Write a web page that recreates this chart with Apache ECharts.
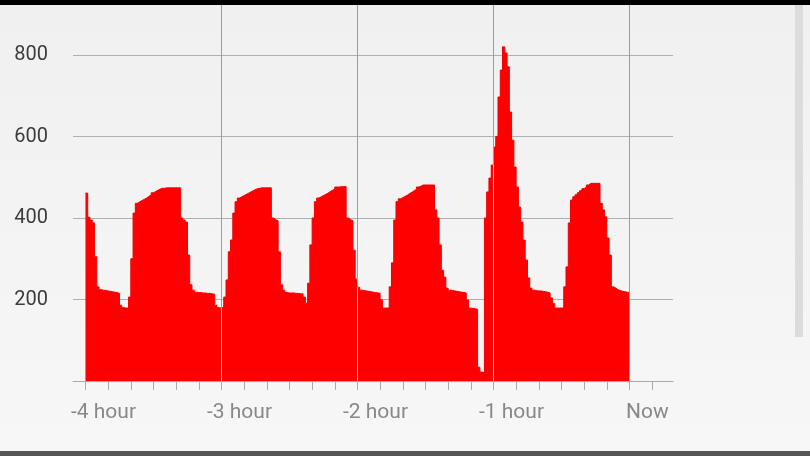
<!DOCTYPE html>
<html><head><meta charset="utf-8">
<script src="https://cdn.jsdelivr.net/npm/echarts@6/dist/echarts.min.js"></script>
<style>html,body{margin:0;padding:0;background:#f3f3f3}#c{width:810px;height:456px}</style>
</head><body><div id="c"></div>
<script>
// time in minutes relative to now, one value per minute
const startMinute = -240;
const stepMinutes = 1;
const hour1 = [461,402,395,388,305,231,224,223,222,221,220,219,218,217,215,186,180,179,179,206,300,412,436,440,443,446,449,453,457,462,
               465,468,471,473,473,474,474,474,474,474,474,474,400,395,390,309,236,223,218,217,217,216,216,215,215,214,213,186,180,179];
const hour2 = [182,206,248,317,346,412,440,449,452,455,458,461,464,467,470,472,473,474,474,474,474,474,400,396,393,317,236,223,217,216,
               216,216,215,215,214,214,206,191,240,334,400,440,449,452,455,458,461,465,468,471,476,476,477,477,477,400,396,393,321,250];
const hour3 = [230,223,222,221,220,219,218,217,216,215,199,179,179,179,231,290,395,440,447,450,453,456,460,463,467,470,476,478,481,481,
               481,481,481,481,420,400,334,272,255,228,223,222,221,220,219,218,217,216,199,179,178,177,176,34,22,20,400,464,498,530];
const hour4 = [574,600,697,763,820,805,771,660,591,525,476,427,390,346,297,253,228,223,222,221,221,220,219,218,216,204,190,179,179,179,
               179,231,280,388,444,452,457,462,467,472,476,481,485,485,485,485,485,436,420,403,351,309,231,228,224,222,220,219,218,217];
const lastValue = 217;
const labelMinutes = [-240,-180,-120,-60,0];
const labelTexts = ['-4 hour','-3 hour','-2 hour','-1 hour','Now'];
const hourLines = [-180,-120,-60,0];
const yLabels = [200,400,600,800];

const values = [...hour1, ...hour2, ...hour3, ...hour4, lastValue];
const points = values.map((v, i) => [startMinute + i * stepMinutes, v]);
const tickMinutes = [];
for (let m = -240; m <= 10; m += 10) tickMinutes.push(m);

const innerLines = hourLines.filter(h => h > startMinute && h < 0).map(h => {
  const idx = (h - startMinute) / stepMinutes;
  const v = Math.min(values[idx - 1], values[idx]);
  return [{coord: [h, 0]}, {coord: [h, v]}];
});

const chart = echarts.init(document.getElementById('c'));
chart.setOption({
  animation: false,
  backgroundColor: {type: 'linear', x: 0, y: 0, x2: 0, y2: 1,
    colorStops: [{offset: 0, color: '#f0f0f0'}, {offset: 1, color: '#f7f7f7'}]},
  grid: {left: 73, right: 137, top: 0, bottom: 75},
  xAxis: {
    type: 'value', min: -245.5, max: 19.2,
    axisLine: {show: true, lineStyle: {color: '#aaaaaa', width: 1}},
    axisTick: {show: true, length: 9, customValues: tickMinutes, lineStyle: {color: '#aaaaaa'}},
    axisLabel: {customValues: labelMinutes, color: '#888888', fontSize: 21, fontFamily: 'Roboto', margin: 21,
      padding: [0, 0, 0, 36],
      formatter: v => labelTexts[labelMinutes.indexOf(v)] || ''},
    splitLine: {show: false}
  },
  yAxis: {
    type: 'value', min: 0, max: 935, interval: 200,
    axisLine: {show: true, lineStyle: {color: '#aaaaaa'}},
    axisTick: {show: false},
    axisLabel: {color: '#3c3c3c', fontSize: 20, fontFamily: 'Roboto', margin: 25, padding: [0, 0, 8, 0],
      formatter: v => yLabels.includes(v) ? String(v) : ''},
    splitLine: {show: true, lineStyle: {color: '#b0b0b0', width: 1}}
  },
  series: [
    {
      type: 'line', data: points, z: 1, symbol: 'none', silent: true,
      lineStyle: {width: 0, opacity: 0},
      markLine: {silent: true, symbol: 'none', label: {show: false},
        lineStyle: {color: '#9d9d9d', width: 1, type: 'solid'},
        data: hourLines.map(h => ({xAxis: h}))}
    },
    {
      type: 'line', data: points, z: 2, step: 'end', symbol: 'none', silent: true,
      lineStyle: {color: '#f00000', width: 1},
      areaStyle: {color: '#ff0000', opacity: 1},
      markLine: {silent: true, symbol: 'none', label: {show: false},
        lineStyle: {color: '#f6dede', width: 1, type: 'solid'},
        data: innerLines}
    }
  ],
  graphic: [
    {type: 'rect', shape: {x: 0, y: 0, width: 810, height: 5}, style: {fill: '#000000'}, z: 100},
    {type: 'rect', shape: {x: 0, y: 451, width: 810, height: 5}, style: {fill: '#555555'}, z: 100},
    {type: 'rect', shape: {x: 795, y: 5, width: 8, height: 332}, style: {fill: '#dcdcdc'}, z: 100}
  ]
});
</script>
</body></html>
